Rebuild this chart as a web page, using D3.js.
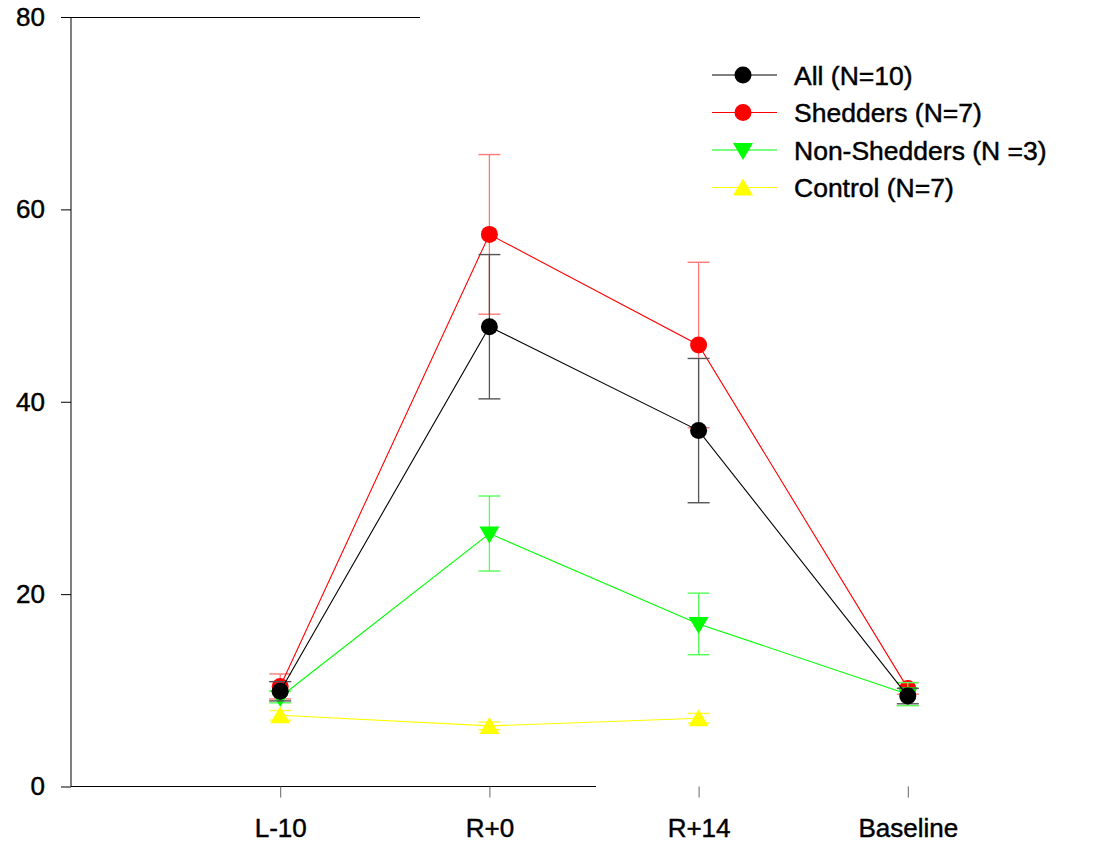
<!DOCTYPE html>
<html>
<head>
<meta charset="utf-8">
<script src="https://cdn.jsdelivr.net/npm/d3@7"></script>
<style>
  html, body { margin: 0; padding: 0; background: #fff; }
  svg { display: block; }
  text { font-family: "Liberation Sans", Arial, sans-serif; fill: #000; stroke: #000; stroke-width: 0.45px; }
</style>
</head>
<body>
<svg id="chart" width="1107" height="846"></svg>
<script>
// Time points
const categories = ["L-10", "R+0", "R+14", "Baseline"];

// Group means and standard errors at each time point
const allMean = [9.9, 47.8, 37.0, 9.4];
const allErr = [1.0, 7.5, 7.5, 0.8];
const shedMean = [10.4, 57.4, 45.9, 10.2];
const shedErr = [1.3, 8.3, 8.6, 0.6];
const nonShedMean = [9.3, 26.3, 16.9, 9.6];
const nonShedErr = [0.6, 3.9, 3.2, 1.2];
const controlMean = [7.4, 6.3, 7.1];
const controlErr = [0.5, 0.4, 0.5];

const yTicks = [0, 20, 40, 60, 80];
const legendLabels = ["All (N=10)", "Shedders (N=7)", "Non-Shedders (N =3)", "Control (N=7)"];

const series = [
  { name: legendLabels[0], mean: allMean, err: allErr, color: "#000000", barColor: "#555555", marker: "circle" },
  { name: legendLabels[1], mean: shedMean, err: shedErr, color: "#ff0000", barColor: "#ff7a7a", marker: "circle" },
  { name: legendLabels[2], mean: nonShedMean, err: nonShedErr, color: "#00ff00", barColor: "#55ff55", marker: "down" },
  { name: legendLabels[3], mean: controlMean, err: controlErr, color: "#ffff00", barColor: "#ffff33", marker: "up" }
];

const svg = d3.select("#chart");
const plotLeft = 71, plotTop = 17, plotBottom = 786.5;

// categorical positions evenly spaced on a 0..5 index scale
const x = d3.scaleLinear().domain([0, 5]).range([plotLeft, 1117]);
const xi = i => x(i + 1);
const y = d3.scaleLinear().domain([0, 80]).range([plotBottom, plotTop]);

// partial frame: left axis with outward ticks, plus short top and bottom rules
const g = svg.append("g");
g.append("line").attr("x1", plotLeft).attr("x2", plotLeft).attr("y1", y(80)).attr("y2", y(0))
  .attr("stroke", "#000").attr("stroke-width", 1);
g.append("line").attr("x1", plotLeft).attr("x2", 420).attr("y1", y(80) + 0.5).attr("y2", y(80) + 0.5)
  .attr("stroke", "#000").attr("stroke-width", 1.2);
g.append("line").attr("x1", plotLeft).attr("x2", 596).attr("y1", y(0)).attr("y2", y(0))
  .attr("stroke", "#000").attr("stroke-width", 1.2);

const yAxis = d3.axisLeft(y).tickValues(yTicks).tickSize(10).tickPadding(16).tickFormat(d3.format("d"));
const ya = svg.append("g").attr("transform", `translate(${plotLeft},0)`).call(yAxis);
ya.select(".domain").remove();
ya.selectAll(".tick line").attr("stroke", "#000");
ya.selectAll(".tick text").attr("font-size", 26).attr("fill", "#000")
  .style("font-family", "'Liberation Sans', Arial, sans-serif");

// x ticks hang below the bottom rule
const xAxis = d3.axisBottom(d3.scalePoint().domain(categories).range([xi(0), xi(3)]))
  .tickSize(11).tickPadding(21);
const xa = svg.append("g").attr("transform", `translate(0,${plotBottom})`).call(xAxis);
xa.select(".domain").remove();
xa.selectAll(".tick line").attr("stroke", "#666");
xa.selectAll(".tick text").attr("font-size", 26).attr("fill", "#000")
  .style("font-family", "'Liberation Sans', Arial, sans-serif");

function drawMarker(sel, type, color) {
  if (type === "circle") {
    sel.append("circle").attr("r", 8.5).attr("fill", color);
  } else if (type === "down") {
    sel.append("path").attr("d", "M-10,-7 L10,-7 L0,10 Z").attr("fill", color);
  } else {
    sel.append("path").attr("d", "M-10,8 L10,8 L0,-9 Z").attr("fill", color);
  }
}

// drawing order: red, green, yellow, then black on top
const drawOrder = [1, 2, 3, 0];
const line = d3.line().x((d, i) => xi(i)).y(d => y(d));

drawOrder.forEach(k => {
  const s = series[k];
  const sg = svg.append("g");
  // error bars
  s.mean.forEach((m, i) => {
    const cx = xi(i);
    sg.append("line").attr("x1", cx).attr("x2", cx)
      .attr("y1", y(m - s.err[i])).attr("y2", y(m + s.err[i]))
      .attr("stroke", s.barColor).attr("stroke-width", 1.3);
    [m - s.err[i], m + s.err[i]].forEach(v => {
      sg.append("line").attr("x1", cx - 11).attr("x2", cx + 11)
        .attr("y1", y(v)).attr("y2", y(v))
        .attr("stroke", s.barColor).attr("stroke-width", 1.4);
    });
  });
  sg.append("path").datum(s.mean).attr("d", line)
    .attr("fill", "none").attr("stroke", s.color).attr("stroke-width", 1.1);
  s.mean.forEach((m, i) => {
    drawMarker(sg.append("g").attr("transform", `translate(${xi(i)},${y(m)})`), s.marker, s.color);
  });
});

// legend
const lg = svg.append("g");
const ly0 = 75, lstep = 37.5;
series.forEach((s, k) => {
  const yy = ly0 + k * lstep;
  lg.append("line").attr("x1", 712).attr("x2", 777).attr("y1", yy).attr("y2", yy)
    .attr("stroke", s.color).attr("stroke-width", 1.1);
  drawMarker(lg.append("g").attr("transform", `translate(743,${yy})`), s.marker, s.color);
  lg.append("text").attr("x", 794).attr("y", yy).attr("dy", "0.36em")
    .attr("font-size", 26.5).text(s.name);
});
</script>
</body>
</html>
